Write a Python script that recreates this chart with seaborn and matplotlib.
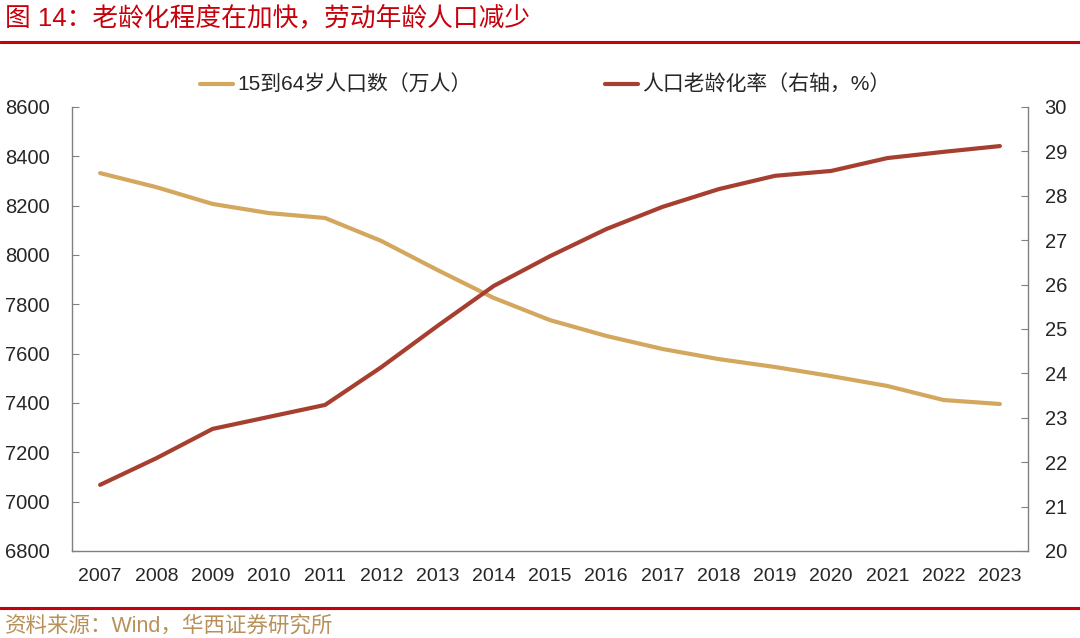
import matplotlib
matplotlib.use("Agg")
import matplotlib.pyplot as plt
import pandas as pd
import seaborn as sns

# data
years = [str(y) for y in range(2007, 2024)]
working_age = [8332, 8275, 8207, 8170, 8150, 8057, 7939, 7826, 7736, 7672,
               7619, 7578, 7546, 7509, 7469, 7412, 7396]
aging_rate = [21.49, 22.09, 22.75, 23.02, 23.29, 24.14, 25.07, 25.97, 26.64,
              27.25, 27.75, 28.15, 28.45, 28.56, 28.85, 28.99, 29.12]

label_work = "15到64岁人口数（万人）"
label_aging = "人口老龄化率（右轴，%）"
title = "图 14：老龄化程度在加快，劳动年龄人口减少"
source = "资料来源：Wind，华西证券研究所"

gold = "#D3A75E"
brick = "#A63F30"
red = "#C8000B"
spine_c = "#808080"

sns.set_style("white")
plt.rcParams["font.family"] = ["Liberation Sans", "Noto Sans CJK SC", "DejaVu Sans"]

df = pd.DataFrame({"year": years, "work": working_age, "aging": aging_rate})
df["x"] = range(len(df))

fig = plt.figure(figsize=(10.8, 6.38), dpi=100)
ax = fig.add_axes([72 / 1080, 1 - 551 / 638, (1028 - 72) / 1080, (551 - 107) / 638])
ax2 = ax.twinx()

sns.lineplot(data=df, x="x", y="work", ax=ax, color=gold, linewidth=3, label=label_work, legend=False)
sns.lineplot(data=df, x="x", y="aging", ax=ax2, color=brick, linewidth=3, label=label_aging, legend=False)

ax.set_xlim(-0.5, len(df) - 0.5)
ax.set_ylim(6800, 8600)
ax2.set_ylim(20, 30)
ax.set_yticks(range(6800, 8601, 200))
ax2.set_yticks(range(20, 31, 1))
ax.set_xticks(df["x"])
ax.set_xticklabels(years)
ax.set_xticks([i - 0.5 for i in range(1, len(df))], minor=True)
ax.set_xlabel("")
ax.set_ylabel("")
ax2.set_ylabel("")

for a in (ax, ax2):
    a.spines["top"].set_visible(False)
    for s in ("left", "right", "bottom"):
        a.spines[s].set_color(spine_c)
        a.spines[s].set_linewidth(1)
ax.spines["right"].set_visible(False)
ax2.spines["left"].set_visible(False)
ax2.spines["bottom"].set_visible(False)

ax.tick_params(axis="y", direction="in", length=5, color=spine_c, labelsize=14.5, pad=16)
ax2.tick_params(axis="y", direction="in", length=5, color=spine_c, labelsize=14.5, pad=12)
ax.tick_params(axis="x", which="major", length=0, labelsize=14, pad=12)
ax.tick_params(axis="x", which="minor", direction="in", length=5, color=spine_c)

h1, l1 = ax.get_legend_handles_labels()
h2, l2 = ax2.get_legend_handles_labels()
fig.legend(h1 + h2, l1 + l2, loc="center", bbox_to_anchor=(545 / 1080, 1 - 85 / 638), ncol=2,
           frameon=False, fontsize=15, handlelength=1.6, handletextpad=0.2, columnspacing=6.4)

fig.text(5 / 1080, 1 - 18 / 638, title, color=red, fontsize=18.5, va="center", ha="left")
fig.add_artist(plt.Line2D([0, 1], [1 - 42 / 638, 1 - 42 / 638], color=red, linewidth=2.2))
fig.add_artist(plt.Line2D([0, 1], [1 - 608 / 638, 1 - 608 / 638], color=red, linewidth=2.2))
fig.text(5 / 1080, 1 - 626 / 638, source, color="#B8915A", fontsize=15.5, va="center", ha="left")

fig.savefig("out.png", dpi=100)
